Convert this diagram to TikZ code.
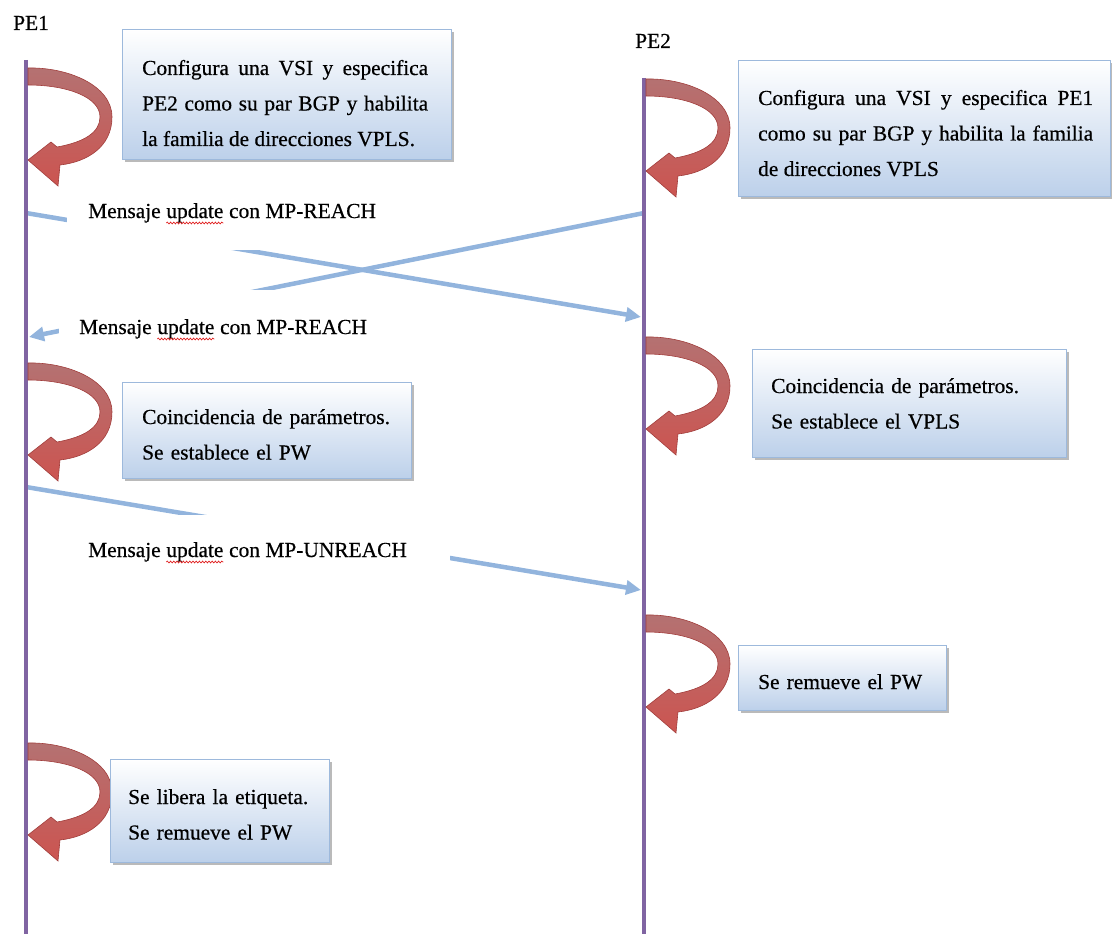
\documentclass[tikz,border=0pt]{standalone}
\usepackage{fontspec}
\setmainfont{Liberation Serif}[FakeBold=0.5]
\usetikzlibrary{arrows.meta,shadows,decorations.pathmorphing}

\definecolor{pepurple}{HTML}{8064A2}
\definecolor{msgblue}{HTML}{92B4DD}
\definecolor{boxedge}{HTML}{9DB9DC}
\definecolor{boxlow}{HTML}{BCD0EA}
\definecolor{turntop}{HTML}{B47272}
\definecolor{turnlow}{HTML}{CC5450}
\definecolor{turnedge}{HTML}{A13E3C}
\definecolor{squig}{HTML}{E02020}

% word with a red wavy underline
\newcommand\wavy[1]{\tikz[baseline=(w.base)]{\node[inner sep=0pt,outer sep=0pt,anchor=base] (w) {#1};%
  \draw[squig,line width=0.7pt,decorate,decoration={snake,amplitude=0.9pt,segment length=3.2pt}]
    ([yshift=-5pt]w.base west) -- ([yshift=-5pt]w.base east);}}

\begin{document}
\begin{tikzpicture}[x=1pt,y=-1pt,
  peline/.style={draw=pepurple,line width=4pt},
  msgline/.style={draw=msgblue,line width=4.5pt,-{Triangle[length=15pt,width=14pt]}},
  gapbox/.style={fill=white,draw=none,inner sep=0pt,anchor=north west},
  msglabel/.style={inner sep=0pt,anchor=base west,font=\fontsize{21.4}{30}\selectfont},
  infobox/.style={draw=boxedge,line width=0.8pt,top color=white,bottom color=boxlow,
    inner sep=0pt,anchor=north west,
    drop shadow={shadow xshift=3pt,shadow yshift=-3pt,fill=black!45,opacity=0.6}},
  infotext/.style={inner sep=0pt,anchor=base west,font=\fontsize{21.4}{35.5}\selectfont},
  turnstyle/.style={top color=turntop,bottom color=turnlow,draw=turnedge,line width=0.6pt},
  turn/.pic={
    \path[turnstyle] (1,1) .. controls (40,0) and (85,18) .. (85,50)
      .. controls (85,80) and (60,95) .. (33,98) -- (31,119) -- (1,93) -- (24,75) -- (30,80)
      .. controls (58,75) and (73,65) .. (73,50)
      .. controls (73,30) and (40,18) .. (1,18) -- cycle;
  }
]
\useasboundingbox (0,0) rectangle (1112,934);

% end points of the messages on the two lifelines
\coordinate (a1s) at (26,213);  \coordinate (a1e) at (641,317);
\coordinate (a2s) at (644,213); \coordinate (a2e) at (29,337);
\coordinate (a3s) at (26,487);  \coordinate (a3e) at (641,590);

% messages
\draw[msgline] (a1s) -- (a1e);
\draw[msgline] (a2s) -- (a2e);
\draw[msgline] (a3s) -- (a3e);

% white text boxes of the message labels
\node[gapbox,minimum width=325pt,minimum height=60pt] (g1) at (67,190) {};
\node[gapbox,minimum width=335pt,minimum height=60pt] (g2) at (59,290) {};
\node[gapbox,minimum width=383pt,minimum height=60pt] (g3) at (67,515) {};
\node[msglabel] (m1) at (88,218) {Mensaje \wavy{update} con MP-REACH};
\node[msglabel] (m2) at (79,334) {Mensaje \wavy{update} con MP-REACH};
\node[msglabel] (m3) at (88,557) {Mensaje \wavy{update} con MP-UNREACH};

% lifelines
\node[msglabel] (pe1) at (13,30) {PE1};
\node[msglabel] (pe2) at (635,48) {PE2};
\coordinate (pe1top) at (26,60);  \coordinate (pe1bot) at (26,934);
\coordinate (pe2top) at (644,78); \coordinate (pe2bot) at (644,934);
\draw[peline] (pe1top) -- (pe1bot);
\draw[peline] (pe2top) -- (pe2bot);

% local actions
\pic at (27,67)  {turn};
\pic at (645,78) {turn};
\pic at (27,362) {turn};
\pic at (645,336) {turn};
\pic at (645,614) {turn};
\pic at (27,742) {turn};

\node[infobox,minimum width=329pt,minimum height=130pt] (b1) at (122,29) {};
\node[infotext,text width=286pt,align=justify] (t1) at (142,75)
  {Configura una VSI y especifica\linebreak PE2 como su par BGP y habilita\linebreak la familia de direcciones VPLS.};

\node[infobox,minimum width=372pt,minimum height=136pt] (b2) at (738,60) {};
\node[infotext,text width=335pt,align=justify] (t2) at (758,105)
  {Configura una VSI y especifica PE1\linebreak como su par BGP y habilita la familia\linebreak de direcciones VPLS};

\node[infobox,minimum width=289pt,minimum height=96pt] (b3) at (122,382) {};
\node[infotext,text width=260pt,align=left] (t3) at (142,424)
  {Coincidencia de parámetros.\\Se establece el PW};

\node[infobox,minimum width=314pt,minimum height=108pt] (b4) at (752,349) {};
\node[infotext,text width=290pt,align=left] (t4) at (771,393)
  {Coincidencia de parámetros.\\Se establece el VPLS};

\node[infobox,minimum width=208pt,minimum height=65pt] (b5) at (738,645) {};
\node[infotext,text width=180pt,align=left] (t5) at (758,689)
  {Se remueve el PW};

\node[infobox,minimum width=219pt,minimum height=103pt] (b6) at (110,759) {};
\node[infotext,text width=200pt,align=left] (t6) at (128,804)
  {Se libera la etiqueta.\\Se remueve el PW};
\end{tikzpicture}
\end{document}
